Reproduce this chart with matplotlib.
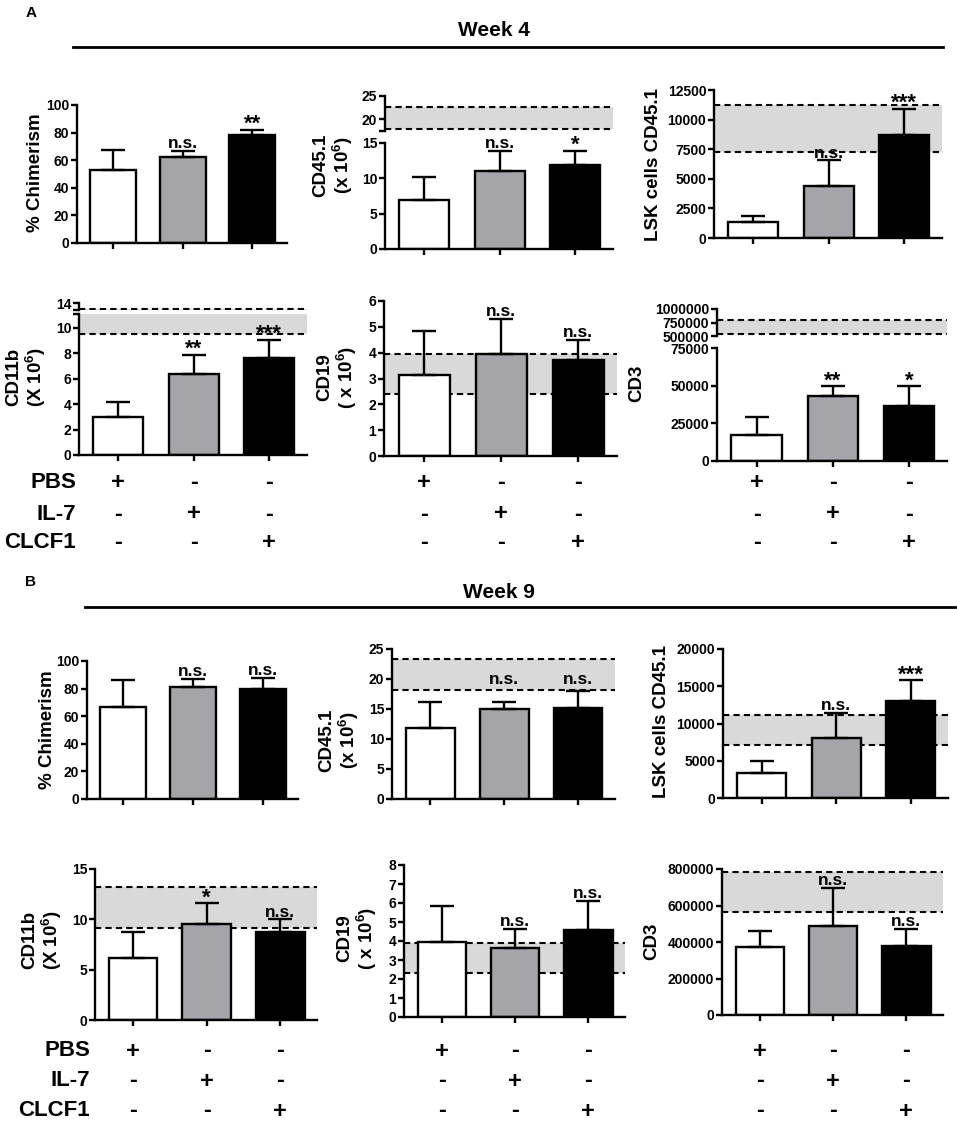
import numpy as np
import matplotlib
matplotlib.use('Agg')
import matplotlib.pyplot as plt
from matplotlib.lines import Line2D
from matplotlib.transforms import blended_transform_factory

plt.rcParams['font.family'] = ['Liberation Sans', 'DejaVu Sans']
plt.rcParams['font.weight'] = 'bold'
plt.rcParams['mathtext.fontset'] = 'custom'
plt.rcParams['mathtext.rm'] = 'Liberation Sans:bold'
plt.rcParams['mathtext.it'] = 'Liberation Sans:bold'
plt.rcParams['mathtext.bf'] = 'Liberation Sans:bold'

# groups and treatment table
groups = ['PBS', 'IL-7', 'CLCF1']
treat_signs = [['+', '-', '-'],
               ['-', '+', '-'],
               ['-', '-', '+']]

# ---- Week 4 ----
chim_w4 = [53, 62.5, 78]
chim_w4_sem = [14.5, 4.5, 4.0]
chim_w4_sig = ['', 'n.s.', '**']

cd45_w4 = [7.0, 11.1, 11.9]
cd45_w4_sem = [3.2, 2.8, 2.0]
cd45_w4_sig = ['', 'n.s.', '*']
cd45_w4_band = [17.9, 22.6]

lsk_w4 = [1350, 4400, 8700]
lsk_w4_sem = [500, 2150, 2200]
lsk_w4_sig = ['', 'n.s.', '***']
lsk_w4_band = [7300, 11250]

cd11b_w4 = [3.0, 6.4, 7.6]
cd11b_w4_sem = [1.2, 1.5, 1.45]
cd11b_w4_sig = ['', '**', '***']
cd11b_w4_band = [9.5, 13.0]

cd19_w4 = [3.15, 3.93, 3.7]
cd19_w4_sem = [1.7, 1.37, 0.8]
cd19_w4_sig = ['', 'n.s.', 'n.s.']
cd19_w4_band = [2.4, 3.95]

cd3_w4 = [17000, 43000, 36500]
cd3_w4_sem = [12000, 6500, 13000]
cd3_w4_sig = ['', '**', '*']
cd3_w4_band = [545000, 790000]

# ---- Week 9 ----
chim_w9 = [67, 81, 80]
chim_w9_sem = [19, 6, 7.5]
chim_w9_sig = ['', 'n.s.', 'n.s.']

cd45_w9 = [11.8, 15.0, 15.1]
cd45_w9_sem = [4.4, 1.1, 2.9]
cd45_w9_sig = ['', 'n.s.', 'n.s.']
cd45_w9_band = [18.1, 23.3]

lsk_w9 = [3400, 8100, 13000]
lsk_w9_sem = [1600, 3300, 2800]
lsk_w9_sig = ['', 'n.s.', '***']
lsk_w9_band = [7100, 11150]

cd11b_w9 = [6.2, 9.5, 8.7]
cd11b_w9_sem = [2.5, 2.1, 1.3]
cd11b_w9_sig = ['', '*', 'n.s.']
cd11b_w9_band = [9.15, 13.2]

cd19_w9 = [3.97, 3.65, 4.6]
cd19_w9_sem = [1.88, 1.0, 1.5]
cd19_w9_sig = ['', 'n.s.', 'n.s.']
cd19_w9_band = [2.3, 3.92]

cd3_w9 = [375000, 490000, 378000]
cd3_w9_sem = [85000, 205000, 92000]
cd3_w9_sig = ['', 'n.s.', 'n.s.']
cd3_w9_band = [566000, 782000]

W, H = 957, 1122
fig = plt.figure(figsize=(W / 100, H / 100), dpi=100)

bar_colors = ['white', '#a4a4a9', 'black']
band_color = '#d9d9d9'
LW = 1.7


def make_axes(box, ylim, ticks, labels=None, part='full'):
    l, t, r, b = box
    ax = fig.add_axes([l / W, 1 - b / H, (r - l) / W, (b - t) / H])
    ax.set_xlim(-0.52, 2.5)
    ax.set_ylim(*ylim)
    for s in ['top', 'right']:
        ax.spines[s].set_visible(False)
    for s in ['left', 'bottom']:
        ax.spines[s].set_linewidth(LW)
    ax.set_yticks(ticks)
    if labels is None:
        labels = [str(int(v)) for v in ticks]
    ax.set_yticklabels(labels)
    ax.tick_params(axis='both', direction='out', length=4, width=LW,
                   labelsize=10, pad=1.5)
    ax.set_xticks([0, 1, 2])
    ax.set_xticklabels([])
    if part == 'upper':
        ax.spines['bottom'].set_visible(False)
        ax.tick_params(axis='x', bottom=False)
    ax.patch.set_alpha(0)
    return ax


def draw_bars(axes, means, sems, band=None):
    x = np.arange(3)
    for ax in axes:
        if band is not None:
            ax.axhspan(band[0], band[1], color=band_color, lw=0, zorder=0)
            for v in band:
                ax.axhline(v, color='black', lw=1.5, ls=(0, (3, 2)), zorder=1)
        ax.bar(x, means, width=0.66, color=bar_colors, edgecolor='black',
               linewidth=LW, zorder=2)
        ax.errorbar(x, means, yerr=[np.zeros(3), sems], fmt='none',
                    ecolor='black', elinewidth=LW, capsize=8.5, capthick=LW,
                    zorder=3)


def add_sig(ax, means, sems, sig, floor=None):
    for i, s in enumerate(sig):
        if not s:
            continue
        top = means[i] + sems[i]
        if floor is not None:
            top = max(top, floor)
        if s == 'n.s.':
            off, size = 2, 12.5
        else:
            off, size = 0, 16
        ax.annotate(s, (i, top), xytext=(0, off), textcoords='offset points',
                    ha='center', va='baseline', fontsize=size,
                    annotation_clip=False, zorder=5)


def ylab(x, y, text):
    fig.text(x / W, 1 - y / H, text, rotation=90, ha='center', va='center',
             multialignment='center', fontsize=13.5, linespacing=1.1)


def treatments(axes, row_y, label_x):
    for r, name in enumerate(groups):
        fig.text(label_x / W, 1 - row_y[r] / H, name, ha='right', va='center',
                 fontsize=16)
    for ax in axes:
        trans = blended_transform_factory(ax.transData, fig.transFigure)
        for r, row in enumerate(treat_signs):
            for i, s in enumerate(row):
                ax.text(i, 1 - row_y[r] / H, s, transform=trans, ha='center',
                        va='center', fontsize=17)


x6 = r'(x 10$^{6}$)'

# ================= Week 4 =================
fig.text(31 / W, 1 - 13 / H, 'A', ha='center', va='center', fontsize=11)
fig.text(458 / W, 1 - 31 / H, 'Week 4', ha='left', va='center', fontsize=15)
fig.add_artist(Line2D([73 / W, 943 / W], [1 - 47 / H] * 2, color='black', lw=2))

a1 = make_axes((77, 105, 287, 243), (0, 100), [0, 20, 40, 60, 80, 100])
draw_bars([a1], chim_w4, chim_w4_sem)
add_sig(a1, chim_w4, chim_w4_sem, chim_w4_sig)
ylab(36, 173, '% Chimerism')

a2u = make_axes((385, 96, 613, 131), (17.5, 25), [17.5, 20, 25], ['', '20', '25'], part='upper')
a2 = make_axes((385, 143, 613, 249), (0, 15), [0, 5, 10, 15])
draw_bars([a2u, a2], cd45_w4, cd45_w4_sem, cd45_w4_band)
add_sig(a2, cd45_w4, cd45_w4_sem, cd45_w4_sig)
ylab(334, 165, 'CD45.1\n' + x6)

a3 = make_axes((714, 90, 942, 238), (0, 12500), [0, 2500, 5000, 7500, 10000, 12500])
draw_bars([a3], lsk_w4, lsk_w4_sem, lsk_w4_band)
add_sig(a3, lsk_w4, lsk_w4_sem, lsk_w4_sig)
ylab(654, 164, 'LSK cells CD45.1')

a4u = make_axes((79, 303, 307, 310), (12.83, 14), [12.83, 14], ['', '14'], part='upper')
a4 = make_axes((79, 314, 307, 455), (0, 11.1), [0, 2, 4, 6, 8, 10, 11.1],
               ['0', '2', '4', '6', '8', '10', ''])
draw_bars([a4u, a4], cd11b_w4, cd11b_w4_sem, cd11b_w4_band)
add_sig(a4, cd11b_w4, cd11b_w4_sem, cd11b_w4_sig)
ylab(27, 377, 'CD11b\n' + r'(X 10$^{6}$)')

a5 = make_axes((384, 301, 617, 456), (0, 6), [0, 1, 2, 3, 4, 5, 6])
draw_bars([a5], cd19_w4, cd19_w4_sem, cd19_w4_band)
add_sig(a5, cd19_w4, cd19_w4_sem, cd19_w4_sig)
ylab(338, 377, 'CD19\n' + r'( x 10$^{6}$)')

a6u = make_axes((717, 309, 947, 336), (500000, 1000000), [500000, 750000, 1000000], part='upper')
a6 = make_axes((717, 348, 947, 461), (0, 75000), [0, 25000, 50000, 75000])
draw_bars([a6u, a6], cd3_w4, cd3_w4_sem, cd3_w4_band)
add_sig(a6, cd3_w4, cd3_w4_sem, cd3_w4_sig)
ylab(637, 383, 'CD3')

treatments([a4, a5, a6], [483, 514, 543], 76)

# ================= Week 9 =================
fig.text(31 / W, 1 - 582 / H, 'B', ha='center', va='center', fontsize=11)
fig.text(463 / W, 1 - 592 / H, 'Week 9', ha='left', va='center', fontsize=15)
fig.add_artist(Line2D([85 / W, 955 / W], [1 - 607 / H] * 2, color='black', lw=2))

b1 = make_axes((87, 661, 298, 799), (0, 100), [0, 20, 40, 60, 80, 100])
draw_bars([b1], chim_w9, chim_w9_sem)
add_sig(b1, chim_w9, chim_w9_sem, chim_w9_sig)
ylab(48, 730, '% Chimerism')

b2 = make_axes((392, 649, 615, 799), (0, 25), [0, 5, 10, 15, 20, 25])
draw_bars([b2], cd45_w9, cd45_w9_sem, cd45_w9_band)
add_sig(b2, cd45_w9, cd45_w9_sem, cd45_w9_sig, floor=18.7)
ylab(340, 740, 'CD45.1\n' + x6)

b3 = make_axes((723, 649, 948, 798), (0, 20000), [0, 5000, 10000, 15000, 20000])
draw_bars([b3], lsk_w9, lsk_w9_sem, lsk_w9_band)
add_sig(b3, lsk_w9, lsk_w9_sem, lsk_w9_sig)
ylab(661, 722, 'LSK cells CD45.1')

b4 = make_axes((95, 869, 317, 1020), (0, 15), [0, 5, 10, 15])
draw_bars([b4], cd11b_w9, cd11b_w9_sem, cd11b_w9_band)
add_sig(b4, cd11b_w9, cd11b_w9_sem, cd11b_w9_sig)
ylab(43, 940, 'CD11b\n' + r'(X 10$^{6}$)')

b5 = make_axes((404, 865, 625, 1017), (0, 8), [0, 1, 2, 3, 4, 5, 6, 7, 8])
draw_bars([b5], cd19_w9, cd19_w9_sem, cd19_w9_band)
add_sig(b5, cd19_w9, cd19_w9_sem, cd19_w9_sig)
ylab(358, 938, 'CD19\n' + r'( x 10$^{6}$)')

b6 = make_axes((722, 869, 943, 1015), (0, 800000), [0, 200000, 400000, 600000, 800000])
draw_bars([b6], cd3_w9, cd3_w9_sem, cd3_w9_band)
add_sig(b6, cd3_w9, cd3_w9_sem, cd3_w9_sig)
ylab(652, 941, 'CD3')

treatments([b4, b5, b6], [1051, 1081, 1111], 90)

fig.savefig('out.png', dpi=100)
